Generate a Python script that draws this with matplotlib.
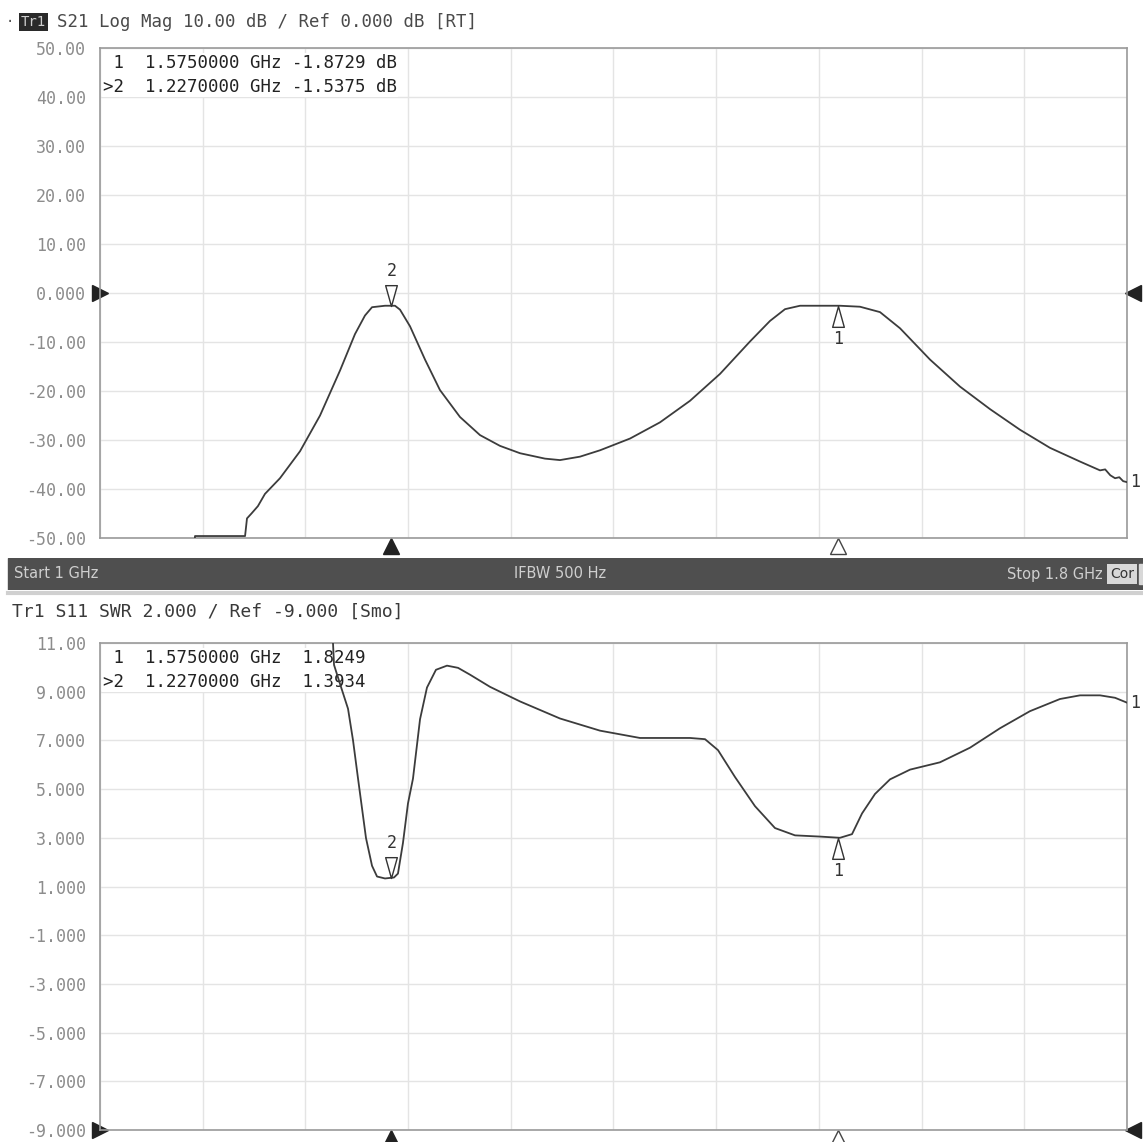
import numpy as np
import matplotlib.pyplot as plt
from matplotlib.path import Path
from matplotlib.transforms import blended_transform_factory

# ---- data --------------------------------------------------------------
# S21 log mag trace (GHz, dB)
f21 = [1.000, 1.0730, 1.0740, 1.1130, 1.1145, 1.1180, 1.1230, 1.1285, 1.1402,
       1.1558, 1.1714, 1.1870, 1.1986, 1.2064, 1.2119, 1.2220, 1.2298, 1.2337,
       1.2415, 1.2532, 1.2648, 1.2804, 1.2960, 1.3116, 1.3272, 1.3466, 1.3583,
       1.3739, 1.3895, 1.4129, 1.4362, 1.4596, 1.4830, 1.5063, 1.5219, 1.5336,
       1.5453, 1.5764, 1.5920, 1.6076, 1.6232, 1.6466, 1.6699, 1.6933, 1.7166,
       1.7400, 1.7634, 1.7790, 1.7830, 1.7870, 1.7907, 1.7940, 1.7970, 1.8000]
s21 = [-56.0, -56.0, -49.6, -49.6, -46.0, -45.0, -43.5, -41.0, -37.8,
       -32.3, -25.0, -15.8, -8.4, -4.6, -2.9, -2.6, -2.6, -3.4,
       -6.8, -13.6, -19.8, -25.3, -29.0, -31.2, -32.7, -33.8, -34.1,
       -33.4, -32.1, -29.7, -26.4, -22.0, -16.5, -9.9, -5.7, -3.3,
       -2.6, -2.6, -2.8, -3.9, -7.2, -13.6, -19.1, -23.7, -27.9,
       -31.6, -34.4, -36.2, -36.0, -37.2, -37.8, -37.6, -38.4, -38.6]

# S11 SWR trace (GHz, SWR units on the screen scale)
f11 = [1.000, 1.1800, 1.1815, 1.1823, 1.1877, 1.1932, 1.1971, 1.2010, 1.2072,
       1.2119, 1.2158, 1.2220, 1.2290, 1.2321, 1.2360, 1.2399, 1.2438, 1.2493,
       1.2547, 1.2617, 1.2703, 1.2789, 1.2882, 1.3038, 1.3272, 1.3583, 1.3895,
       1.4206, 1.4596, 1.4713, 1.4814, 1.4946, 1.5102, 1.5258, 1.5414, 1.5609,
       1.5764, 1.5858, 1.5936, 1.6037, 1.6154, 1.6310, 1.6543, 1.6777, 1.7011,
       1.7244, 1.7478, 1.7634, 1.7790, 1.7907, 1.8000]
swr = [13.0, 13.0, 11.0, 10.1, 9.2, 8.3, 7.0, 5.43, 2.99,
       1.85, 1.41, 1.33, 1.37, 1.53, 2.79, 4.41, 5.43, 7.87,
       9.17, 9.90, 10.07, 9.98, 9.7, 9.2, 8.6, 7.9, 7.4,
       7.1, 7.1, 7.05, 6.6, 5.5, 4.3, 3.4, 3.1, 3.05,
       3.0, 3.15, 4.0, 4.8, 5.4, 5.8, 6.1, 6.7, 7.5,
       8.2, 8.7, 8.85, 8.85, 8.75, 8.55]

mk_freq = [1.575, 1.227]
mk_s21 = ["-1.8729", "-1.5375"]
mk_swr = ["1.8249", "1.3934"]

top_ticks = [50, 40, 30, 20, 10, 0, -10, -20, -30, -40, -50]
top_labels = ["50.00", "40.00", "30.00", "20.00", "10.00", "0.000",
              "-10.00", "-20.00", "-30.00", "-40.00", "-50.00"]
bot_ticks = [11, 9, 7, 5, 3, 1, -1, -3, -5, -7, -9]
bot_labels = ["11.00", "9.000", "7.000", "5.000", "3.000", "1.000",
              "-1.000", "-3.000", "-5.000", "-7.000", "-9.000"]

MONO = "DejaVu Sans Mono"
W, H = 1143, 1142
fig = plt.figure(figsize=(W / 100, H / 100), dpi=100)

# narrow marker triangles with the tip at the data point
TRI_DN = Path([(0, 0), (-0.28, 1), (0.28, 1), (0, 0)], closed=True)
TRI_UP = Path([(0, 0), (-0.28, -1), (0.28, -1), (0, 0)], closed=True)


def px_axes(x0, y0, x1, y1):
    # pixel box (top-left origin) -> figure axes
    return fig.add_axes([x0 / W, 1 - y1 / H, (x1 - x0) / W, (y1 - y0) / H])


def setup(ax, ylim, ticks, labels):
    ax.set_xlim(1.0, 1.8)
    ax.set_ylim(*ylim)
    ax.set_xticks(np.linspace(1.0, 1.8, 11))
    ax.set_xticklabels([])
    ax.set_yticks(ticks)
    ax.set_yticklabels(labels, family=MONO, fontsize=12, color="#8c8c8c")
    ax.tick_params(length=0, pad=10)
    ax.grid(True, color="#e4e4e4", lw=1.0)
    for s in ax.spines.values():
        s.set_color("#9a9a9a")
        s.set_linewidth(1.2)


def markers(ax, f, y, ref, legend):
    ax.plot(f, y, color="#3c3c3c", lw=1.3, zorder=4)
    ax.text(3 / 1027, 1 - 6 / 490, legend, transform=ax.transAxes, va="top",
            ha="left", family=MONO, fontsize=12.5, linespacing=1.4, color="#222",
            zorder=3, bbox=dict(fc="white", ec="none", pad=1))
    yv = np.interp(mk_freq, f, y)
    # marker 1 below trace pointing up, marker 2 above pointing down
    ax.plot(mk_freq[0], yv[0], marker=TRI_UP, ms=30, mfc="white", mec="#333",
            mew=1.0, zorder=5)
    ax.annotate("1", (mk_freq[0], yv[0]), xytext=(0, -24), textcoords="offset points",
                ha="center", va="center", family=MONO, fontsize=12, color="#333")
    ax.plot(mk_freq[1], yv[1], marker=TRI_DN, ms=30, mfc="white", mec="#333",
            mew=1.0, zorder=5)
    ax.annotate("2", (mk_freq[1], yv[1]), xytext=(0, 25), textcoords="offset points",
                ha="center", va="center", family=MONO, fontsize=12, color="#333")
    # marker positions under the graticule
    tb = blended_transform_factory(ax.transData, ax.transAxes)
    ax.plot(mk_freq[1], -0.016, marker="^", ms=11, color="#222", transform=tb,
            clip_on=False)
    ax.plot(mk_freq[0], -0.016, marker="^", ms=11, mfc="white", mec="#444",
            transform=tb, clip_on=False)
    # reference level arrows
    tr = blended_transform_factory(ax.transAxes, ax.transData)
    ax.plot(0.0, ref, marker=">", ms=11, color="#222", transform=tr, clip_on=False)
    ax.plot(1.006, ref, marker="<", ms=11, color="#222", transform=tr, clip_on=False)
    # trace number at right edge
    ax.text(1.003, y[-1], "1", transform=tr, family=MONO, fontsize=12,
            va="center", ha="left", color="#333")


# ---- top: S21 --------------------------------------------------------------
ax1 = px_axes(100, 48, 1127, 538)
setup(ax1, (-50, 50), top_ticks, top_labels)
markers(ax1, f21, s21, 0,
        " 1  %.7f GHz %s dB\n>2  %.7f GHz %s dB"
        % (mk_freq[0], mk_s21[0], mk_freq[1], mk_s21[1]))

fig.text(6 / W, 1 - 22 / H, "·", family=MONO, fontsize=10, color="#555", va="center")
fig.text(21 / W, 1 - 22 / H, "Tr1", family=MONO, fontsize=10, color="#cfcfcf",
         va="center", bbox=dict(fc="#2a2a2a", ec="none", pad=1.5))
fig.text(57 / W, 1 - 22 / H, "S21 Log Mag 10.00 dB / Ref 0.000 dB [RT]",
         family=MONO, fontsize=12.5, color="#4a4a4a", va="center")

# ---- status bar ----------------------------------------------------------
bar = fig.add_axes([0, 1 - 590 / H, 1, 32 / H])
bar.set_xlim(0, W)
bar.set_ylim(0, 1)
bar.axis("off")
bar.add_patch(plt.Rectangle((8, 0), W, 1, color="#4f4f4f"))
bar.text(14, 0.5, "Start 1 GHz", color="#cfcfcf", fontsize=10.5, va="center")
bar.text(560, 0.5, "IFBW 500 Hz", color="#cfcfcf", fontsize=10.5, va="center",
         ha="center")
bar.text(1103, 0.5, "Stop 1.8 GHz", color="#cfcfcf", fontsize=10.5, va="center",
         ha="right")
bar.text(1110, 0.5, "Cor", color="#333", fontsize=10, va="center",
         bbox=dict(fc="#d8d8d8", ec="none", pad=2))
bar.add_patch(plt.Rectangle((1139, 0.2), 6, 0.6, color="#d8d8d8"))
fig.add_artist(plt.Line2D([8 / W, 1], [1 - 593 / H] * 2, color="#d0d0d0", lw=3))

fig.text(12 / W, 1 - 612 / H, "Tr1 S11 SWR 2.000 / Ref -9.000 [Smo]",
         family=MONO, fontsize=13, color="#3a3a3a", va="center")

# ---- bottom: S11 SWR -------------------------------------------------------
ax2 = px_axes(100, 643, 1127, 1130)
setup(ax2, (-9, 11), bot_ticks, bot_labels)
markers(ax2, f11, swr, -9,
        " 1  %.7f GHz  %s\n>2  %.7f GHz  %s"
        % (mk_freq[0], mk_swr[0], mk_freq[1], mk_swr[1]))

fig.savefig("out.png", dpi=100)
